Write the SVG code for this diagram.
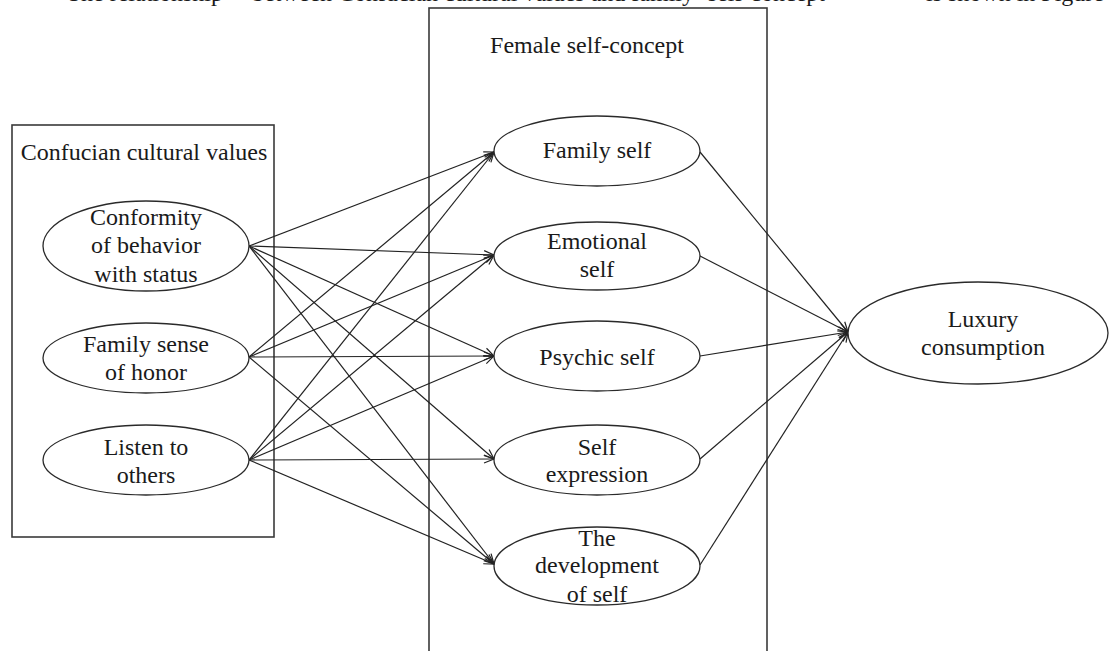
<svg xmlns="http://www.w3.org/2000/svg" width="1110" height="651" viewBox="0 0 1110 651">
<style>
  text { font-family: "Liberation Serif", "Times New Roman", serif; font-size: 24px; fill: #1a1a1a; text-anchor: middle; }
  text.top { text-anchor: end; }
  .box { fill: none; stroke: #3a3a3a; stroke-width: 1.6; }
  .node ellipse { fill: #ffffff; stroke: #2a2a2a; stroke-width: 1.3; }
  .edge { fill: none; stroke: #222222; stroke-width: 1.2; marker-end: url(#arr); }
</style>
<defs>
  <marker id="arr" markerUnits="userSpaceOnUse" markerWidth="12" markerHeight="10" refX="11" refY="5" orient="auto">
    <path d="M1,1 L11,5 L1,9" fill="none" stroke="#222222" stroke-width="1.2"/>
  </marker>
</defs>
<rect width="1110" height="651" fill="#ffffff"/>

<g id="caption">
  <text class="top" x="223" y="0.5">The relationship</text>
  <text class="top" x="694" y="0.5">between Confucian cultural values and family</text>
  <text class="top" x="825" y="0.5">self-concept</text>
  <text class="top" x="1104" y="0.5">is shown in Figure</text>
</g>

<g id="group-confucian">
  <rect class="box" x="12" y="125" width="262" height="412"/>
  <text x="144" y="160">Confucian cultural values</text>
</g>
<g id="group-female">
  <rect class="box" x="429" y="8" width="338" height="660"/>
  <text x="587" y="53">Female self-concept</text>
</g>

<g id="connectors">
  <line class="edge" x1="249" y1="246" x2="494" y2="152"/>
  <line class="edge" x1="249" y1="246" x2="494" y2="255"/>
  <line class="edge" x1="249" y1="246" x2="494" y2="356"/>
  <line class="edge" x1="249" y1="246" x2="494" y2="459"/>
  <line class="edge" x1="249" y1="246" x2="494" y2="564"/>
  <line class="edge" x1="249" y1="357" x2="494" y2="152"/>
  <line class="edge" x1="249" y1="357" x2="494" y2="255"/>
  <line class="edge" x1="249" y1="357" x2="494" y2="356"/>
  <line class="edge" x1="249" y1="357" x2="494" y2="564"/>
  <line class="edge" x1="249" y1="460" x2="494" y2="152"/>
  <line class="edge" x1="249" y1="460" x2="494" y2="255"/>
  <line class="edge" x1="249" y1="460" x2="494" y2="356"/>
  <line class="edge" x1="249" y1="460" x2="494" y2="459"/>
  <line class="edge" x1="249" y1="460" x2="494" y2="564"/>
  <line class="edge" x1="700" y1="152" x2="848" y2="332"/>
  <line class="edge" x1="700" y1="256" x2="848" y2="332"/>
  <line class="edge" x1="700" y1="356" x2="848" y2="332"/>
  <line class="edge" x1="700" y1="459" x2="848" y2="332"/>
  <line class="edge" x1="700" y1="565" x2="848" y2="332"/>
</g>

<g id="node-conformity" class="node">
  <ellipse cx="146" cy="246" rx="103" ry="45"/>
  <text x="146" y="225">Conformity</text>
  <text x="146" y="253">of behavior</text>
  <text x="146" y="282">with status</text>
</g>
<g id="node-honor" class="node">
  <ellipse cx="146" cy="358" rx="103" ry="35"/>
  <text x="146" y="352">Family sense</text>
  <text x="146" y="380">of honor</text>
</g>
<g id="node-listen" class="node">
  <ellipse cx="146" cy="460" rx="103" ry="35"/>
  <text x="146" y="455">Listen to</text>
  <text x="146" y="483">others</text>
</g>

<g id="node-family-self" class="node">
  <ellipse cx="597" cy="151" rx="103" ry="35"/>
  <text x="597" y="158">Family self</text>
</g>
<g id="node-emotional-self" class="node">
  <ellipse cx="597" cy="256" rx="103" ry="34"/>
  <text x="597" y="249">Emotional</text>
  <text x="597" y="277">self</text>
</g>
<g id="node-psychic-self" class="node">
  <ellipse cx="597" cy="356" rx="103" ry="35"/>
  <text x="597" y="365">Psychic self</text>
</g>
<g id="node-self-expression" class="node">
  <ellipse cx="597" cy="460" rx="103" ry="35"/>
  <text x="597" y="455">Self</text>
  <text x="597" y="482">expression</text>
</g>
<g id="node-development" class="node">
  <ellipse cx="597" cy="566" rx="103" ry="39"/>
  <text x="597" y="546">The</text>
  <text x="597" y="573">development</text>
  <text x="597" y="602">of self</text>
</g>

<g id="node-luxury" class="node">
  <ellipse cx="978" cy="333" rx="130" ry="51"/>
  <text x="983" y="327">Luxury</text>
  <text x="983" y="355">consumption</text>
</g>
</svg>
